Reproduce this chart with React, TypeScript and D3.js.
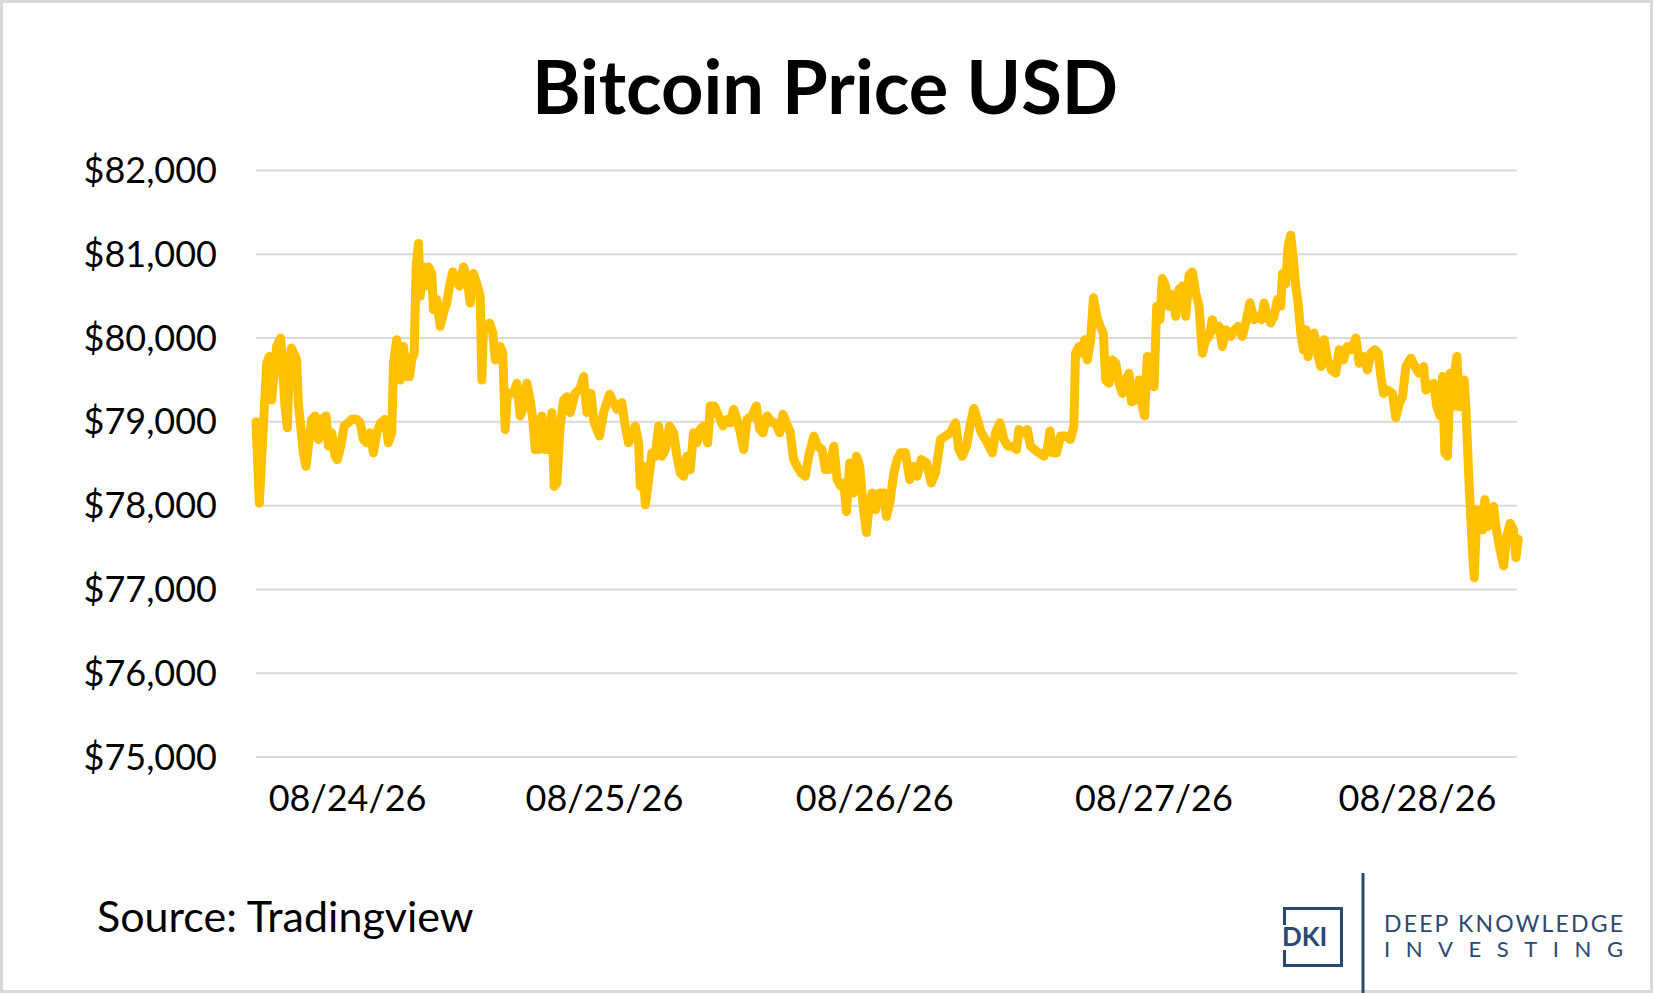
import React from 'react';
import * as d3 from 'd3';

// hours from the first sample
const hours = [
  0, 0.3, 0.66, 0.96, 1.19, 1.4, 1.85, 2.21, 2.39, 2.6, 2.81, 2.99, 3.17, 3.64, 3.79, 4.0, 4.24, 4.48, 4.69, 4.99,
  5.29, 5.59, 5.88, 6.27, 6.48, 6.78, 7.08, 7.29, 7.59, 7.89, 8.27, 8.57, 9.02, 9.32, 9.62, 9.92, 10.21, 10.51, 10.81,
  11.17, 11.56, 11.86, 12.16, 12.31, 12.6, 12.9, 13.2, 13.5, 13.74, 13.95, 14.16, 14.34, 14.55, 14.7, 14.93, 15.14,
  15.44, 15.74, 15.89, 16.19, 16.49, 16.79, 17.08, 17.32, 17.62, 17.92, 18.22, 18.58, 18.88, 19.18, 19.47, 19.77,
  20.07, 20.22, 20.37, 20.67, 20.91, 21.21, 21.42, 21.63, 21.86, 22.1, 22.31, 22.52, 23.06, 23.36, 23.66, 23.95,
  24.25, 24.55, 24.79, 25.0, 25.3, 25.6, 25.9, 26.2, 26.49, 26.7, 26.94, 27.24, 27.54, 27.84, 28.14, 28.58, 29.03,
  29.33, 29.63, 29.99, 30.28, 30.76, 31.12, 31.66, 32.02, 32.32, 32.76, 33.06, 33.36, 33.66, 33.96, 34.26, 34.41,
  34.65, 34.86, 35.16, 35.45, 35.75, 36.05, 36.35, 36.65, 37.03, 37.39, 37.69, 37.99, 38.29, 38.59, 38.88, 39.18,
  39.48, 39.78, 40.08, 40.44, 40.68, 41.04, 41.43, 41.82, 42.17, 42.47, 42.77, 43.07, 43.37, 43.67, 43.97, 44.42,
  44.8, 45.1, 45.4, 45.76, 46.2, 46.5, 46.89, 47.19, 47.48, 47.84, 48.14, 48.44, 48.8, 49.18, 49.49, 49.95, 50.3,
  50.68, 50.99, 51.29, 51.74, 52.03, 52.39, 52.63, 52.87, 53.16, 53.47, 53.76, 54.06, 54.36, 54.66, 54.96, 55.17,
  55.47, 55.85, 56.21, 56.45, 56.75, 57.11, 57.41, 57.71, 58.15, 58.54, 58.9, 59.2, 59.56, 60.04, 60.46, 60.84,
  61.29, 61.74, 62.18, 62.63, 62.94, 63.23, 63.62, 63.98, 64.28, 64.58, 64.94, 65.33, 65.63, 65.93, 66.22, 66.61,
  66.97, 67.33, 67.71, 68.1, 68.31, 68.7, 69.06, 69.35, 69.71, 70.1, 70.55, 70.85, 71.09, 71.38, 71.68, 72.04,
  72.49, 72.93, 73.23, 73.38, 73.69, 73.99, 74.2, 74.44, 74.74, 74.98, 75.28, 75.58, 75.87, 76.08, 76.38, 76.68,
  76.98, 77.28, 77.57, 77.87, 78.17, 78.38, 78.77, 79.07, 79.37, 79.57, 79.81, 80.11, 80.41, 80.65, 80.94, 81.15,
  81.45, 81.75, 82.05, 82.35, 82.65, 82.95, 83.25, 83.55, 83.84, 84.14, 84.44, 84.74, 85.04, 85.34, 85.63, 85.93,
  86.23, 86.53, 86.83, 87.27, 87.63, 87.93, 88.32, 88.62, 89.0, 89.37, 89.72, 90.02, 90.26, 90.56, 90.86, 91.16,
  91.46, 91.76, 91.91, 92.2, 92.41, 92.65, 92.89, 93.1, 93.31, 93.55, 93.79, 94.0, 94.2, 94.44, 94.74, 95.04, 95.34,
  95.64, 95.94, 96.3, 96.68, 96.98, 97.37, 97.73, 98.09, 98.48, 98.78, 99.17, 99.52, 99.82, 100.18, 100.48, 100.72,
  100.96, 101.31, 101.76, 102.06, 102.36, 102.66, 102.96, 103.41, 103.76, 104.15, 104.54, 104.75, 105.05, 105.44,
  105.74, 106.03, 106.24, 106.45, 106.69, 106.93, 107.14, 107.35, 107.53, 107.74, 107.95, 108.18, 108.33, 108.63,
  108.93, 109.08, 109.32, 109.62, 109.83, 110.03, 110.27, 110.57, 110.81, 111.02, 111.32, 111.71, 112.0, 112.3,
  112.6, 112.81, 113.02,
];

const prices = [
  79000, 78030, 78950, 79700, 79780, 79260, 79900, 80000, 79620, 79180, 78930, 79740, 79880, 79740, 79220, 78950,
  78630, 78470, 78710, 79030, 79070, 78790, 79030, 79070, 78710, 78870, 78590, 78550, 78710, 78950, 78990, 79030,
  79030, 78990, 78790, 78750, 78870, 78630, 78870, 78990, 79030, 78750, 78870, 79700, 79980, 79500, 79900, 79540,
  79540, 79740, 79820, 80850, 81130, 80500, 80850, 80620, 80850, 80770, 80340, 80460, 80140, 80300, 80420, 80620,
  80790, 80690, 80620, 80850, 80730, 80420, 80770, 80650, 80500, 79500, 80140, 80140, 80180, 80060, 79740, 79860,
  79900, 79820, 78910, 79340, 79340, 79460, 79070, 79180, 79460, 79260, 79030, 78670, 78670, 79070, 78670, 78670,
  79110, 78230, 78270, 78950, 79260, 79300, 79110, 79340, 79400,
  79540, 79110, 79340, 78990, 78830, 79110, 79330, 79230, 79150, 79230, 78950, 78750, 78830, 78950, 78750, 78230,
  78470, 78010, 78310, 78630, 78590, 78950, 78590, 78670, 78950, 78870, 78590, 78390, 78350, 78590, 78430, 78870,
  78750, 78910, 78950, 78750, 79190, 79190, 79070, 78950, 79030, 78990, 79150, 79030, 78870, 78670, 79030, 79070,
  79190, 78910, 78870, 79070, 78990, 78990, 78870, 79090, 78990, 78870, 78550, 78470, 78390, 78350, 78590, 78830,
  78710, 78670, 78430, 78430, 78710, 78310, 78230, 78270, 77930, 78510, 78150, 78590, 78470, 77990, 77680, 78070,
  78150, 77950, 78150, 78150, 77870, 78030, 78390,
  78550, 78630, 78630, 78310, 78470, 78350, 78550, 78510, 78270, 78390, 78790, 78830, 78870, 78990, 78670, 78590,
  78710, 78990, 79160, 79030, 78870, 78790, 78710, 78630, 78870, 78990, 78790, 78710, 78710, 78670, 78910, 78870,
  78910, 78710, 78670, 78630, 78590, 78670, 78890, 78630, 78630, 78830, 78830, 78790, 78950, 79820, 79900, 79820,
  79980, 79740, 79980, 80480, 80260, 80140, 80060, 79500, 79460, 79740, 79700, 79460, 79340, 79500, 79580, 79240,
  79260, 79500, 79180, 79070, 79780, 79740, 79420, 80380, 80220, 80710, 80620, 80380, 80520, 80260, 80580, 80620,
  80260, 80750, 80790, 80540, 80380, 79820, 79980, 80020,
  80220, 80100, 80140, 79900, 80100, 80020, 80100, 80140, 80020, 80180, 80420, 80220, 80260, 80220, 80420, 80260,
  80180, 80260, 80460, 80380, 80770, 80650, 81090, 81230, 80930, 80620, 80420, 80060, 79860, 80100, 79780, 79940,
  80060, 79820, 79660, 79980, 79740, 79620, 79580, 79860, 79740, 79900, 79860, 80000, 79700, 79780, 79620, 79820,
  79860, 79820, 79540, 79340, 79380, 79340, 79050, 79220, 79300, 79660, 79760, 79660, 79580, 79660, 79380, 79420,
  79460, 79180, 79070, 79540, 78630, 78590, 79580, 79180, 79620, 79780, 79180, 79460, 79500, 79180, 78230, 77440,
  77140, 77950, 77830, 77710, 78070, 77750, 77950, 77990, 77750, 77520, 77280, 77640, 77790, 77710, 77380, 77600,
];

const yTicks = [75000, 76000, 77000, 78000, 79000, 80000, 81000, 82000];
const dateLabels = ['08/24/26', '08/25/26', '08/26/26', '08/27/26', '08/28/26'];
const dateLabelHours = [8.2, 31.2, 55.4, 80.4, 104.0];

const W = 1653;
const H = 993;
const FONT = 'Lato, "Open Sans", sans-serif';
const GOLD = '#FFC000';
const NAVY = '#2B4872';

export default function App() {
  const x = d3.scaleLinear().domain([0, 113]).range([256, 1518]);
  const y = d3.scaleLinear().domain([75000, 82000]).range([757, 170.5]);
  const fmt = d3.format('$,.0f');

  const series = hours.map((h, i) => ({ h, p: prices[i] }));
  const line = d3
    .line<{ h: number; p: number }>()
    .x((d) => x(d.h))
    .y((d) => y(d.p));

  return (
    <>
      <style>{`body{margin:0}`}</style>
      <svg width={W} height={H} viewBox={`0 0 ${W} ${H}`} style={{ display: 'block' }}>
        <rect x={1.5} y={1.5} width={W - 3} height={H - 3} fill='#fff' stroke='#d9d9d9' strokeWidth={3} />

        <text x={825} y={114} textAnchor='middle' fontFamily={FONT} fontWeight={700} fontSize={74} fill='#000'>
          Bitcoin Price USD
        </text>

        {yTicks.map((t) => (
          <g key={t}>
            <line x1={x.range()[0]} x2={1517} y1={y(t)} y2={y(t)} stroke='#d9d9d9' strokeWidth={2} />
            <text x={217} y={y(t) + 12.5} textAnchor='end' fontFamily={FONT} fontSize={36} fill='#000'>
              {fmt(t)}
            </text>
          </g>
        ))}

        {dateLabels.map((d, i) => (
          <text key={d} x={x(dateLabelHours[i])} y={811} textAnchor='middle' fontFamily={FONT} fontSize={36} fill='#000'>
            {d}
          </text>
        ))}

        <path
          d={line(series) || ''}
          fill='none'
          stroke={GOLD}
          strokeWidth={9}
          strokeLinejoin='round'
          strokeLinecap='round'
        />

        <text x={97} y={932} fontFamily={FONT} fontSize={43} fill='#000'>
          Source: Tradingview
        </text>

        {/* DKI logo */}
        <g fill='none' stroke={NAVY} strokeWidth={3}>
          <path d='M1284.5,925 V908.5 H1341.5 V965.5 H1284.5 V950' />
          <line x1={1363} x2={1363} y1={873} y2={993} />
        </g>
        <text x={1282} y={946} fontFamily={FONT} fontWeight={700} fontSize={26} fill={NAVY}>
          DKI
        </text>
        <text x={1384} y={932} textLength={239} lengthAdjust='spacing' fontFamily={FONT} fontWeight={400} fontSize={23} fill={NAVY}>
          DEEP KNOWLEDGE
        </text>
        <text x={1384} y={957} textLength={239} lengthAdjust='spacing' fontFamily={FONT} fontWeight={400} fontSize={22} fill={NAVY}>
          INVESTING
        </text>
      </svg>
    </>
  );
}
